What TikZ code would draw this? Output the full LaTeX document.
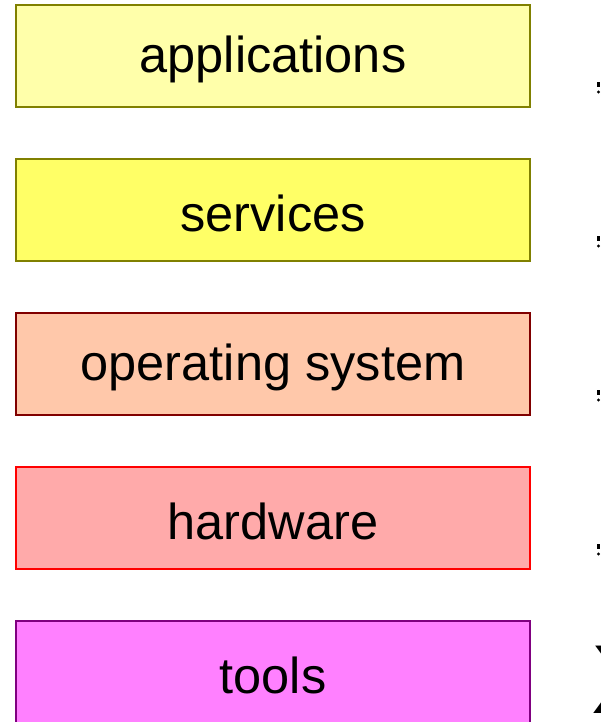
\documentclass[tikz,border=0pt]{standalone}
\usepackage{fontspec}
\setmainfont{Liberation Sans}
\begin{document}
\begin{tikzpicture}[x=1pt,y=-1pt,
  layer/.style={draw, line width=2pt, minimum width=514pt, minimum height=102pt, inner sep=0pt},
  lbl/.style={inner sep=0pt, font=\fontsize{50.5}{54}\selectfont}]
\useasboundingbox (0,0) rectangle (600,722);
\begin{scope}
\clip (0,0) rectangle (600,722);
\node[layer, fill={rgb,255:red,255;green,255;blue,170}, draw={rgb,255:red,128;green,128;blue,0}] (app) at (273,56) {};
\node[layer, fill={rgb,255:red,255;green,255;blue,102}, draw={rgb,255:red,128;green,128;blue,0}] (srv) at (273,210) {};
\node[layer, fill={rgb,255:red,255;green,200;blue,170}, draw={rgb,255:red,128;green,0;blue,0}] (os) at (273,364) {};
\node[layer, fill={rgb,255:red,255;green,170;blue,170}, draw={rgb,255:red,255;green,0;blue,0}] (hw) at (273,518) {};
\node[layer, fill={rgb,255:red,255;green,128;blue,255}, draw={rgb,255:red,128;green,0;blue,128}] (tools) at (273,672) {};
\node[lbl] (tapp) at ([yshift=-3pt]app.center) {applications};
\node[lbl] (tsrv) at ([yshift=-3pt]srv.center) {services};
\node[lbl] (tos) at ([yshift=-3pt]os.center) {operating system};
\node[lbl] (thw) at ([yshift=-3pt]hw.center) {hardware};
\node[lbl] (ttools) at ([yshift=-3pt]tools.center) {tools};
\foreach \yy in {82,236,390,544}{
  \fill (597,\yy) rectangle (600,\yy+5);
  \fill (598.5,\yy+10) circle (1.6);
}
\node[anchor=west, inner sep=0pt, font=\fontsize{98}{100}\selectfont] (x) at (591,680) {X};
\end{scope}
\end{tikzpicture}
\end{document}
